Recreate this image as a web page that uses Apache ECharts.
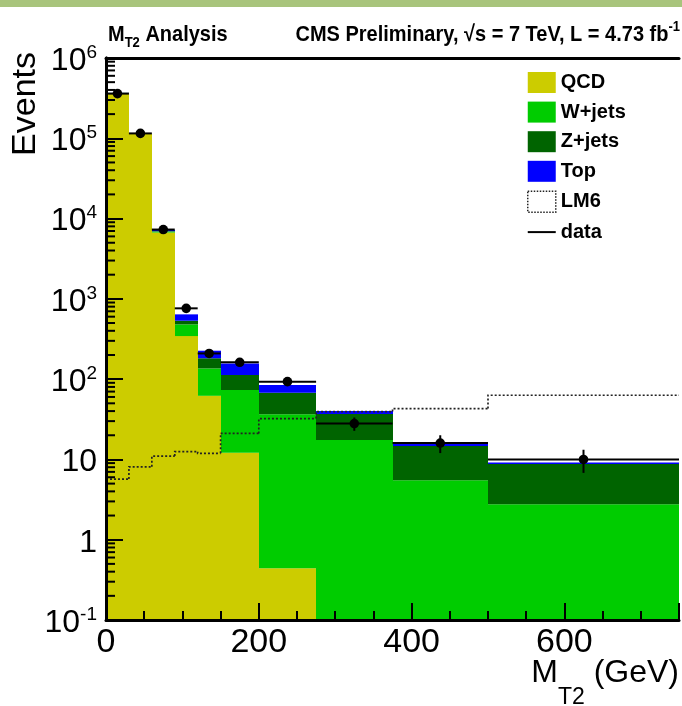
<!DOCTYPE html>
<html>
<head>
<meta charset="utf-8">
<script src="https://cdn.jsdelivr.net/npm/echarts@6/dist/echarts.min.js"></script>
<style>
  html, body { margin: 0; padding: 0; background: #fff; }
  #chart { width: 682px; height: 706px; }
</style>
</head>
<body>
<div id="chart"></div>
<script>
// M_T2 distribution: stacked backgrounds, LM6 signal outline and data points
const binEdges   = [0, 30, 60, 90, 120, 150, 200, 275, 375, 500, 750];
const qcd        = [366000, 113000, 6700, 344, 62, 12.1, 0.44, 0, 0, 0];
const wjets      = [1200, 600, 200, 137, 74, 61, 36, 17.4, 5.5, 2.76];
const zjets      = [600, 300, 70, 53, 46, 39.5, 31.3, 19.4, 9.2, 6.0];
const topVals    = [800, 400, 230, 107, 44, 44.5, 16.8, 3.2, 1.2, 0.4];
const lm6        = [5.7, 8.1, 11.0, 12.5, 11.9, 21.1, 32.3, 39.5, 43, 63];
const dataCounts = [360000, 115000, 7300, 762, 209, 162, 93, 28, 16, 10];
const dataErr    = [600, 339, 85, 27.6, 14.5, 12.7, 9.6, 5.3, 4.0, 3.2];
const xTickLabels = [0, 200, 400, 600];

const Y_MIN = 0.1, Y_MAX = 1e6;
const FONT = 'Liberation Sans';

// stacked layers: [x0, upper, x1, lower]
const layers = [
  { name: 'QCD',    vals: qcd,     color: '#cccc00' },
  { name: 'W+jets', vals: wjets,   color: '#00cc00' },
  { name: 'Z+jets', vals: zjets,   color: '#006400' },
  { name: 'Top',    vals: topVals, color: '#0000ff' }
];
const cum = qcd.map(() => 0);
const stackSeries = layers.map(layer => {
  const items = [];
  layer.vals.forEach((v, i) => {
    const lower = Math.max(cum[i], Y_MIN);
    const upper = cum[i] + v;
    cum[i] = upper;
    if (v > 0 && upper > lower) items.push([binEdges[i], upper, binEdges[i + 1], lower]);
  });
  return {
    type: 'custom', name: layer.name, z: 2,
    itemStyle: { color: layer.color },
    encode: { x: [0, 2], y: [1, 3] },
    data: items,
    renderItem: (params, api) => {
      const p0 = api.coord([api.value(0), api.value(1)]);
      const p1 = api.coord([api.value(2), api.value(3)]);
      const xl = Math.round(p0[0]), xr = Math.round(p1[0]);
      return {
        type: 'rect',
        shape: { x: xl, y: p0[1], width: xr - xl, height: p1[1] - p0[1] },
        style: { fill: layer.color }
      };
    }
  };
});

// LM6 step outline: [x0, value, x1, previous value]
const lm6Items = lm6.map((v, i) => [binEdges[i], v, binEdges[i + 1], i === 0 ? v : lm6[i - 1]]);
const lm6Series = {
  type: 'custom', name: 'LM6', z: 3,
  itemStyle: { color: '#ffffff' },
  encode: { x: [0, 2], y: [1, 3] },
  data: lm6Items,
  renderItem: (params, api) => {
    const a = api.coord([api.value(0), api.value(3)]);
    const b = api.coord([api.value(0), api.value(1)]);
    const c = api.coord([api.value(2), api.value(1)]);
    return {
      type: 'polyline',
      shape: { points: [a, b, c] },
      style: { stroke: '#222', lineWidth: 1.7, lineDash: [2, 2], fill: null }
    };
  }
};

// data points with x and y error bars: [xCenter, value, x0, x1, err]
const dataItems = dataCounts.map((v, i) => [
  (binEdges[i] + binEdges[i + 1]) / 2, v, binEdges[i], binEdges[i + 1], dataErr[i]
]);
const dataSeries = {
  type: 'custom', name: 'data', z: 4,
  itemStyle: { color: '#000' },
  encode: { x: 0, y: 1 },
  data: dataItems,
  renderItem: (params, api) => {
    const xc = api.value(0), v = api.value(1), e = api.value(4);
    const c = api.coord([xc, v]);
    const l = api.coord([api.value(2), v]);
    const r = api.coord([api.value(3), v]);
    const lo = api.coord([xc, v - e]);
    const hi = api.coord([xc, v + e]);
    return {
      type: 'group',
      children: [
        { type: 'line', shape: { x1: l[0], y1: l[1], x2: r[0], y2: r[1] }, style: { stroke: '#000', lineWidth: 2 } },
        { type: 'line', shape: { x1: lo[0], y1: lo[1], x2: hi[0], y2: hi[1] }, style: { stroke: '#000', lineWidth: 2 } },
        { type: 'circle', shape: { cx: c[0], cy: c[1], r: 4.8 }, style: { fill: '#000' } }
      ]
    };
  }
};

// minor ticks on the logarithmic axis (2..9 per decade)
const yMinorTicks = [];
for (let k = -1; k < 6; k++) {
  for (let m = 2; m <= 9; m++) yMinorTicks.push([0, m * Math.pow(10, k)]);
}
const minorTickSeries = {
  type: 'custom', name: 'yMinor', z: 9, silent: true,
  encode: { x: 0, y: 1 },
  data: yMinorTicks,
  renderItem: (params, api) => {
    const p = api.coord([api.value(0), api.value(1)]);
    return {
      type: 'line',
      shape: { x1: p[0], y1: p[1], x2: p[0] + 9, y2: p[1] },
      style: { stroke: '#000', lineWidth: 2 }
    };
  }
};

const axisLineStyle = { color: '#000', width: 3 };

const option = {
  animation: false,
  backgroundColor: '#fff',
  textStyle: { fontFamily: FONT, color: '#000' },
  grid: { left: 106, right: 2, top: 58, bottom: 86, containLabel: false },
  legend: {
    orient: 'vertical', left: 522, top: 67,
    itemWidth: 28, itemHeight: 21, itemGap: 8.6,
    selectedMode: false,
    textStyle: { fontFamily: FONT, fontSize: 20, fontWeight: 'bold', color: '#000' },
    data: [
      { name: 'QCD', icon: 'rect' },
      { name: 'W+jets', icon: 'rect' },
      { name: 'Z+jets', icon: 'rect' },
      { name: 'Top', icon: 'rect' },
      { name: 'LM6', icon: 'rect', itemStyle: { color: '#fff', borderColor: '#222', borderWidth: 1.5, borderType: 'dotted' } },
      { name: 'data', icon: 'path://M0,0M28,21M0,9.6L28,9.6L28,11.6L0,11.6Z', itemStyle: { color: '#000' } }
    ]
  },
  xAxis: [
    {
      type: 'value', min: 0, max: 750, interval: 50, position: 'bottom', z: 10,
      axisLine: { show: true, lineStyle: axisLineStyle },
      axisTick: { show: true, inside: true, length: 9, interval: 0, lineStyle: { color: '#000', width: 2 } },
      axisLabel: {
        interval: 0, margin: 6, fontSize: 34, fontFamily: FONT, color: '#000',
        formatter: v => (xTickLabels.indexOf(v) >= 0 ? String(v) : '')
      },
      splitLine: { show: false }
    },
    {
      type: 'value', min: 0, max: 750, interval: 200, position: 'bottom', z: 10,
      axisLine: { show: false },
      axisTick: { show: true, inside: true, length: 17, lineStyle: { color: '#000', width: 2 } },
      axisLabel: { show: false },
      splitLine: { show: false }
    },
    {
      type: 'value', min: 0, max: 750, position: 'top', z: 10,
      axisLine: { show: true, lineStyle: axisLineStyle },
      axisTick: { show: false }, axisLabel: { show: false }, splitLine: { show: false }
    }
  ],
  yAxis: [
    {
      type: 'log', logBase: 10, min: Y_MIN, max: Y_MAX, splitNumber: 7, position: 'left', z: 10,
      axisLine: { show: true, lineStyle: axisLineStyle },
      axisTick: { show: true, inside: true, length: 17, lineStyle: { color: '#000', width: 2 } },
      splitLine: { show: false },
      axisLabel: {
        margin: 9, fontSize: 32, fontFamily: FONT, color: '#000', lineHeight: 36,
        padding: [6, 0, 0, 0],
        formatter: v => {
          const e = Math.round(Math.log10(v));
          if (e === 0) return '1';
          if (e === 1) return '10';
          return '10{sup|' + e + '}';
        },
        rich: { sup: { fontSize: 19, fontFamily: FONT, color: '#000', verticalAlign: 'top', lineHeight: 36 } }
      }
    },
    {
      type: 'log', logBase: 10, min: Y_MIN, max: Y_MAX, position: 'right', z: 10,
      axisLine: { show: true, lineStyle: axisLineStyle },
      axisTick: { show: false }, axisLabel: { show: false }, splitLine: { show: false }
    }
  ],
  graphic: [
    { type: 'rect', shape: { x: 0, y: 0, width: 682, height: 7 }, style: { fill: '#a8c47c' }, z: 20 },
    {
      type: 'text', x: 108, y: 50, scaleY: 1.12, z: 20,
      style: {
        text: 'M{sub|T2} Analysis', align: 'left', verticalAlign: 'bottom',
        fontFamily: FONT, fontSize: 20, fontWeight: 'bold', fill: '#000',
        rich: { sub: { fontFamily: FONT, fontSize: 13, fontWeight: 'bold', fill: '#000', verticalAlign: 'bottom', lineHeight: 27 } }
      }
    },
    {
      type: 'text', x: 680, y: 50, scaleY: 1.12, z: 20,
      style: {
        text: 'CMS Preliminary, √s = 7 TeV, L = 4.73 fb{sup|-1}', align: 'right', verticalAlign: 'bottom',
        fontFamily: FONT, fontSize: 20, fontWeight: 'bold', fill: '#000',
        rich: { sup: { fontFamily: FONT, fontSize: 13, fontWeight: 'bold', fill: '#000', verticalAlign: 'top', lineHeight: 27 } }
      }
    },
    {
      type: 'text', x: 26, y: 52, rotation: Math.PI / 2, z: 20,
      style: { text: 'Events', align: 'right', verticalAlign: 'middle', fontFamily: FONT, fontSize: 34, fill: '#000' }
    },
    {
      type: 'text', x: 679, y: 709, z: 20,
      style: {
        text: 'M{sub|T2} (GeV)', align: 'right', verticalAlign: 'bottom',
        fontFamily: FONT, fontSize: 32, fill: '#000',
        rich: { sub: { fontFamily: FONT, fontSize: 23, fill: '#000', verticalAlign: 'bottom', lineHeight: 72 } }
      }
    }
  ],
  series: [...stackSeries, lm6Series, dataSeries, minorTickSeries]
};

const chart = echarts.init(document.getElementById('chart'), null, { renderer: 'canvas' });
chart.setOption(option);
</script>
</body>
</html>
